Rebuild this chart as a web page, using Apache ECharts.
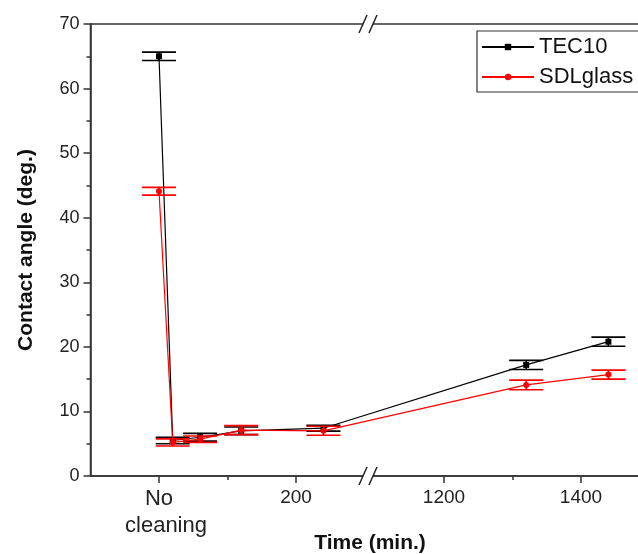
<!DOCTYPE html>
<html>
<head>
<meta charset="utf-8">
<title>Contact angle vs time</title>
<script src="https://cdn.jsdelivr.net/npm/echarts@6.0.0/dist/echarts.min.js"></script>
<style>
  html, body { margin: 0; padding: 0; background: #fff; }
  #chart { width: 638px; height: 554px; }
</style>
</head>
<body>
<div id="chart"></div>
<script>
// time after cleaning (min.), 0 = no cleaning
var times = [0, 20, 60, 120, 240, 1320, 1440];
var tec10 = [65.0, 5.5, 6.0, 7.0, 7.4, 17.2, 20.8];
var tec10Err = [0.65, 0.5, 0.6, 0.6, 0.45, 0.7, 0.7];
var sdl = [44.1, 5.2, 5.7, 7.1, 7.0, 14.1, 15.7];
var sdlErr = [0.6, 0.55, 0.5, 0.7, 0.7, 0.75, 0.7];
var xLabelValues = [0, 200, 1200, 1400];
var xMinorValues = [100, 1300];
var breakStart = 308, breakEnd = 1092;

var FONT = 'Arial, "Liberation Sans", sans-serif';
var AXIS = '#333';

var chart = echarts.init(document.getElementById('chart'));

function pairs(vals) {
    return times.map(function (t, i) { return [t, vals[i]]; });
}

// error bars: caps + stem
function errorBars(name, vals, errs, color, z) {
    return {
        name: name,
        type: 'custom',
        z: z,
        data: times.map(function (t, i) { return [t, vals[i] - errs[i], vals[i] + errs[i]]; }),
        encode: { x: 0, y: [1, 2] },
        renderItem: function (params, api) {
            var lo = api.coord([api.value(0), api.value(1)]);
            var hi = api.coord([api.value(0), api.value(2)]);
            var w = 17;
            var st = { stroke: color, lineWidth: 1.6, fill: null };
            return {
                type: 'group',
                children: [
                    { type: 'line', shape: { x1: lo[0] - w, y1: lo[1], x2: lo[0] + w, y2: lo[1] }, style: st },
                    { type: 'line', shape: { x1: hi[0] - w, y1: hi[1], x2: hi[0] + w, y2: hi[1] }, style: st },
                    { type: 'line', shape: { x1: lo[0], y1: lo[1], x2: hi[0], y2: hi[1] }, style: st }
                ]
            };
        }
    };
}

function xAxisBase() {
    return {
        type: 'value',
        min: -100,
        max: 1500,
        breaks: [{ start: breakStart, end: breakEnd, gap: 0 }],
        breakArea: { show: false },
        splitLine: { show: false }
    };
}

var xMain = xAxisBase();
xMain.position = 'bottom';
xMain.axisLine = { show: true, onZero: false, lineStyle: { color: AXIS, width: 1.5 } };
xMain.axisTick = { show: true, inside: false, length: 7, customValues: xLabelValues, lineStyle: { color: AXIS, width: 1.5 } };
xMain.axisLabel = {
    customValues: xLabelValues,
    fontSize: 19, fontFamily: FONT, color: '#222', margin: 9, lineHeight: 25,
    formatter: function (v) { return v === 0 ? '{w|No}\n{c|cleaning}' : String(v); },
    rich: {
        w: { fontSize: 22, fontFamily: FONT, color: '#222', lineHeight: 27 },
        c: { fontSize: 22, fontFamily: FONT, color: '#222', lineHeight: 27, padding: [0, 0, 0, 14] }
    }
};
xMain.name = 'Time (min.)';
xMain.nameLocation = 'middle';
xMain.nameGap = 57;
xMain.nameMoveOverlap = false;
xMain.nameTextStyle = { fontSize: 21, fontWeight: 'bold', fontFamily: FONT, color: '#111' };

var xMinor = xAxisBase();
xMinor.position = 'bottom';
xMinor.axisLine = { show: false, onZero: false };
xMinor.axisLabel = { show: false };
xMinor.axisTick = { show: true, inside: false, length: 4, customValues: xMinorValues, lineStyle: { color: AXIS, width: 1.5 } };

var option = {
    backgroundColor: '#fff',
    animation: false,
    grid: {
        left: 90.5, top: 24, right: -11.5, bottom: 78,
        outerBoundsMode: 'none',
        containLabel: false,
        show: true, borderColor: AXIS, borderWidth: 1.5
    },
    legend: {
        data: ['TEC10', 'SDLglass'],
        orient: 'vertical',
        left: 477, top: 32,
        itemWidth: 52, itemHeight: 8, itemGap: 8,
        padding: [4, 4, 4, 4],
        textStyle: { fontSize: 22, fontFamily: FONT, color: '#111', lineHeight: 22 }
    },
    xAxis: [xMain, xMinor],
    yAxis: {
        type: 'value',
        min: 0, max: 70, interval: 10,
        axisLine: { show: true, onZero: false, lineStyle: { color: AXIS, width: 1.5 } },
        axisTick: { show: true, inside: false, length: 7, lineStyle: { color: AXIS, width: 1.5 } },
        minorTick: { show: true, splitNumber: 2, length: 4, lineStyle: { color: AXIS, width: 1.5 } },
        splitLine: { show: false },
        axisLabel: { fontSize: 18, fontFamily: FONT, color: '#222', margin: 11 },
        name: 'Contact angle (deg.)',
        nameLocation: 'middle',
        nameGap: 54,
        nameMoveOverlap: false,
        nameTextStyle: { fontSize: 21, fontWeight: 'bold', fontFamily: FONT, color: '#111' }
    },
    series: [
        errorBars('TEC10 err', tec10, tec10Err, '#000', 2),
        {
            name: 'TEC10', type: 'line', z: 3,
            data: pairs(tec10),
            symbol: 'rect', symbolSize: 6,
            itemStyle: { color: '#000' },
            lineStyle: { color: '#000', width: 1.2 }
        },
        errorBars('SDLglass err', sdl, sdlErr, '#f00', 4),
        {
            name: 'SDLglass', type: 'line', z: 5,
            data: pairs(sdl),
            symbol: 'circle', symbolSize: 6,
            itemStyle: { color: '#f00' },
            lineStyle: { color: '#f00', width: 1.2 }
        }
    ]
};
chart.setOption(option);

// "//" break marks on the top and bottom frame lines, legend frame running off the right edge
var bx = chart.convertToPixel({ xAxisIndex: 0 }, breakStart) - 2;
var marks = [
    { type: 'rect', shape: { x: 477, y: 31, width: 220, height: 61 }, style: { fill: '#fff', stroke: AXIS, lineWidth: 1.2 }, z: -1 }
];
[24, 476].forEach(function (y) {
    marks.push({ type: 'rect', shape: { x: bx - 5, y: y - 3, width: 10, height: 6 }, style: { fill: '#fff' }, z: 100 });
    marks.push({ type: 'line', shape: { x1: bx - 9, y1: y + 9, x2: bx - 1, y2: y - 9 }, style: { stroke: '#222', lineWidth: 1.5 }, z: 101 });
    marks.push({ type: 'line', shape: { x1: bx + 1, y1: y + 9, x2: bx + 9, y2: y - 9 }, style: { stroke: '#222', lineWidth: 1.5 }, z: 101 });
});
chart.setOption({ graphic: marks });
</script>
</body>
</html>
